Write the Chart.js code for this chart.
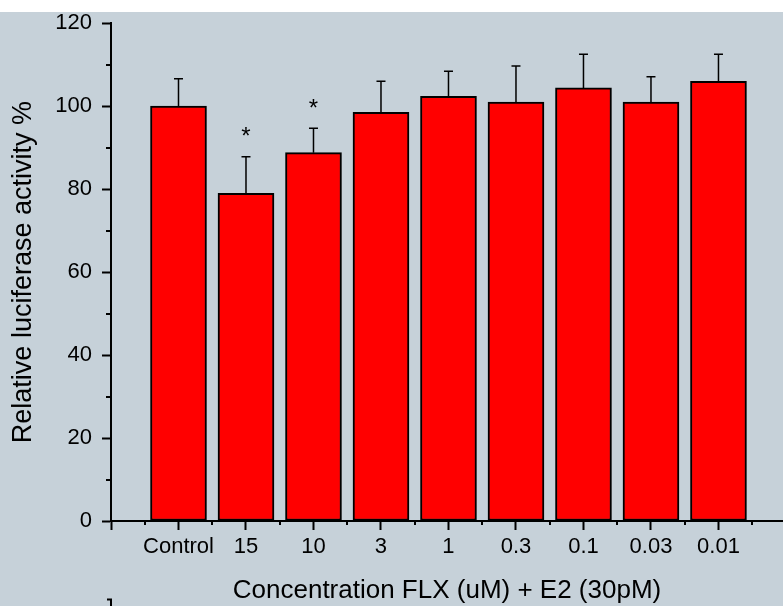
<!DOCTYPE html>
<html lang="en">
<head>
  <meta charset="UTF-8" />
  <title>Relative luciferase activity</title>
  <style>
    body{margin:0;background:#fff}
    #chart{display:block}
  </style>
  <script src="https://cdn.jsdelivr.net/npm/chart.js"></script>
</head>
<body>
<canvas id="chart" width="783" height="606"></canvas>
<script>
// data
const categories=['Control','15','10','3','1','0.3','0.1','0.03','0.01'];
const activity=[100,79.0,88.8,98.5,102.4,101.0,104.4,101.0,106.0];
const sdUp=[6.6,8.8,5.9,7.5,6.0,8.7,8.1,6.1,6.5];
const signif=['','*','*','','','','','',''];
const yTicks=[0,20,40,60,80,100,120];
const yMinor=[10,30,50,70,90,110];
const xMajor=[-1,0,1,2,3,4,5,6,7,8];
const xMinor=[-0.5,0.5,1.5,2.5,3.5,4.5,5.5,6.5,7.5,8.5];

const FONT="'Liberation Sans', Arial, sans-serif";
Chart.defaults.font.family=FONT;
Chart.defaults.color='#000';

const extras={
  id:'extras',
  beforeDraw(c){
    const ctx=c.ctx;
    ctx.save();
    ctx.fillStyle='#fff';ctx.fillRect(0,0,c.width,c.height);
    ctx.fillStyle='#c6d1d9';ctx.fillRect(0,12,c.width,c.height-12);
    ctx.restore();
  },
  afterDatasetsDraw(c){
    const ctx=c.ctx, xs=c.scales.x, ys=c.scales.y;
    ctx.save();
    ctx.strokeStyle='#000';ctx.lineWidth=1.5;
    activity.forEach((v,i)=>{
      const x=xs.getPixelForValue(i);
      const y0=ys.getPixelForValue(v), y1=ys.getPixelForValue(v+sdUp[i]);
      ctx.beginPath();
      ctx.moveTo(x,y0);ctx.lineTo(x,y1);
      ctx.moveTo(x-4.5,y1);ctx.lineTo(x+4.5,y1);
      ctx.stroke();
      if(signif[i]){
        // centre the star glyph a little above the error cap
        ctx.fillStyle='#000';ctx.font='24px '+FONT;
        ctx.textAlign='center';ctx.textBaseline='alphabetic';
        const m=ctx.measureText(signif[i]);
        const mid=(m.actualBoundingBoxAscent-m.actualBoundingBoxDescent)/2;
        ctx.fillText(signif[i],x,y1-25+mid);
      }
    });
    ctx.restore();
  },
  afterDraw(c){
    const ctx=c.ctx, xs=c.scales.x, ys=c.scales.y, a=c.chartArea;
    ctx.save();
    ctx.strokeStyle='#000';ctx.lineWidth=2;
    ctx.beginPath();
    yMinor.forEach(v=>{const y=Math.round(ys.getPixelForValue(v));ctx.moveTo(a.left-5,y);ctx.lineTo(a.left,y);});
    xMinor.forEach(v=>{const x=Math.round(xs.getPixelForValue(v));ctx.moveTo(x,a.bottom);ctx.lineTo(x,a.bottom+4);});
    ctx.stroke();
    // stray bracket at the bottom edge of the original figure
    ctx.beginPath();ctx.moveTo(107,599.5);ctx.lineTo(111,599.5);ctx.lineTo(111,606);ctx.stroke();
    ctx.restore();
  }
};

new Chart(document.getElementById('chart'),{
  type:'bar',
  data:{
    datasets:[{
      data:activity.map((v,i)=>({x:i,y:v})),
      backgroundColor:'#ff0000',
      borderColor:'#000',
      borderWidth:2,
      borderSkipped:false,
      barThickness:56
    }]
  },
  options:{
    responsive:false,
    animation:false,
    devicePixelRatio:1,
    layout:{padding:{top:17,right:0,left:0,bottom:0}},
    plugins:{legend:{display:false},tooltip:{enabled:false}},
    scales:{
      x:{
        type:'linear',
        offset:false,
        min:-1,max:8.956,
        afterBuildTicks:s=>{s.ticks=xMajor.map(v=>({value:v}));},
        afterFit:s=>{s.height=85;},
        grid:{offset:false,drawOnChartArea:false,tickLength:9,tickWidth:2,tickColor:'#000'},
        border:{color:'#000',width:2},
        ticks:{font:{size:22},padding:4,maxRotation:0,autoSkip:false,callback:v=>categories[v]??''},
        title:{display:true,text:'Concentration FLX (uM) + E2 (30pM)',font:{size:26},padding:{top:1.5,bottom:0}}
      },
      y:{
        min:0,max:120,
        afterBuildTicks:s=>{s.ticks=yTicks.map(v=>({value:v}));},
        afterFit:s=>{s.width=111;},
        grid:{drawOnChartArea:false,tickLength:9,tickWidth:2,tickColor:'#000'},
        border:{color:'#000',width:2},
        ticks:{font:{size:22},padding:10},
        title:{display:true,text:'Relative luciferase activity %',font:{size:27},padding:{top:7.5,bottom:0}}
      }
    }
  },
  plugins:[extras]
});
</script>
</body>
</html>
